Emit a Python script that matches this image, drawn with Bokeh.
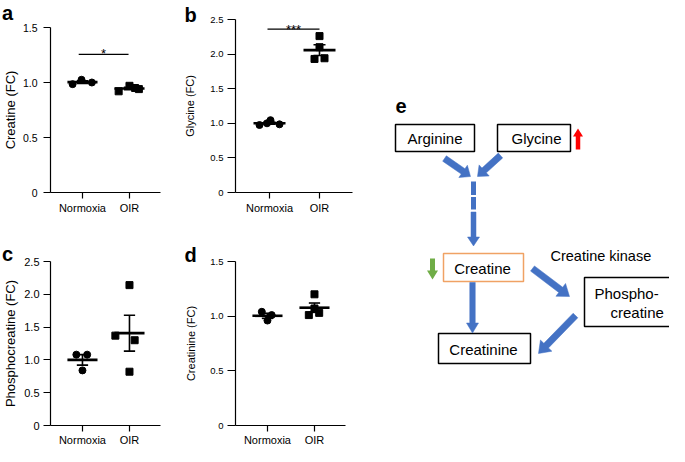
import math
import numpy as np
from bokeh.plotting import figure
from bokeh.models import Range1d, FixedTicker
from bokeh.layouts import row, column
from bokeh.embed import file_html
from bokeh.resources import INLINE
from bokeh.core.properties import value

FONT = "Liberation Sans"

# ---------------- data ----------------
groups = ["Normoxia", "OIR"]
group_pos = [1, 2]

creatine_normoxia = [0.985, 1.025, 1.0]
creatine_oir = [0.92, 0.97, 0.95, 0.94]
glycine_normoxia = [0.975, 1.0, 1.045, 0.985]
glycine_oir = [1.93, 2.26, 2.10, 1.94]
phosphocreatine_normoxia = [1.08, 1.08, 0.84]
phosphocreatine_oir = [2.14, 1.37, 1.30, 0.82]
creatinine_normoxia = [1.04, 0.96, 1.01]
creatinine_oir = [1.20, 1.07, 1.01, 1.03]

y_ticks_15 = [0, 0.5, 1.0, 1.5]
y_tick_labels_15 = ["0", "0.5", "1.0", "1.5"]
y_ticks_25 = [0, 0.5, 1.0, 1.5, 2.0, 2.5]
y_tick_labels_25 = ["0", "0.5", "1.0", "1.5", "2.0", "2.5"]

# jitter (horizontal placement of dots, layout only)
jit_a = ([-0.21, -0.02, 0.2], [-0.23, 0.0, 0.12, 0.2])
jit_b = ([-0.2, -0.05, 0.02, 0.2], [-0.1, 0.0, 0.0, 0.1])
jit_c = ([-0.13, 0.1, 0.0], [0.0, -0.3, 0.11, 0.0])
jit_d = ([-0.12, 0.0, 0.09], [0.0, 0.0, -0.12, 0.1])

XR = (0.32, 2.66)   # x extent of the axes


def panel(letter, ylabel, norm, oir, jit, ymax, yticks, ylabels, g, sig=None):
    W, H = g["W"], g["H"]
    al, ar, at, ab = g["axes"]           # axes box in figure pixels
    kx = (XR[1] - XR[0]) / (ar - al)
    ky = ymax / (ab - at)
    x_start, x_end = XR[0] - al * kx, XR[1] + (W - ar) * kx
    y_start, y_end = -(H - ab) * ky, ymax + at * ky

    p = figure(width=W, height=H, min_border=0,
               x_range=Range1d(x_start, x_end), y_range=Range1d(y_start, y_end),
               output_backend="svg", toolbar_location=None, tools="")
    p.grid.visible = False
    p.outline_line_color = None
    p.background_fill_color = "white"
    p.border_fill_color = "white"

    for ax in (p.xaxis[0], p.yaxis[0]):
        ax.axis_line_color = "black"
        ax.axis_line_width = 1.2
        ax.major_tick_line_color = "black"
        ax.major_tick_line_width = 1.2
        ax.minor_tick_line_color = None
        ax.major_tick_in = 0
        ax.major_label_text_color = "black"
        ax.major_label_text_font = FONT
        ax.axis_label_text_font = FONT
        ax.axis_label_text_font_style = "normal"
        ax.axis_label_text_color = "black"

    xa = p.xaxis[0]
    xa.fixed_location = 0
    xa.bounds = XR
    xa.ticker = FixedTicker(ticks=group_pos)
    xa.major_label_overrides = {pos: name for pos, name in zip(group_pos, groups)}
    xa.major_tick_out = 6
    xa.major_label_standoff = g["xstd"]
    xa.major_label_text_font_size = "11px"

    ya = p.yaxis[0]
    ya.fixed_location = XR[0]
    ya.bounds = (0, ymax)
    ya.ticker = FixedTicker(ticks=yticks)
    ya.major_label_overrides = {t: s for t, s in zip(yticks, ylabels)}
    ya.major_tick_out = g["tick"]
    ya.major_label_standoff = g["std"]
    ya.major_label_text_font_size = g["tfs"]
    ya.axis_label = ylabel
    ya.axis_label_text_font_size = g["lfs"]
    ya.axis_label_standoff = g["als"]

    for vals, dx, pos, marker in ((norm, jit[0], group_pos[0], "circle"),
                                  (oir, jit[1], group_pos[1], "square")):
        v = np.array(vals, dtype=float)
        xs = pos + np.array(dx)
        p.scatter(xs, v, marker=marker, size=7, fill_color="black", line_color="black")
        m = v.mean()
        sem = v.std(ddof=1) / math.sqrt(len(v))
        p.segment(x0=[pos - 0.32], x1=[pos + 0.32], y0=[m], y1=[m], line_color="black", line_width=2.6)
        p.segment(x0=[pos, pos - 0.12, pos - 0.12], x1=[pos, pos + 0.12, pos + 0.12],
                  y0=[m - sem, m - sem, m + sem], y1=[m + sem, m - sem, m + sem],
                  line_color="black", line_width=1.6)

    if sig is not None:
        x0, x1, yl, stars, ys = sig
        p.segment(x0=[x0], x1=[x1], y0=[yl], y1=[yl], line_color="black", line_width=1.2)
        p.text(x=[(x0 + x1) / 2], y=[ys], text=[stars], text_font=value(FONT),
               text_font_size="13px", text_align="center", text_baseline="alphabetic",
               text_color="black")

    # panel letter, placed by figure-pixel position
    fx, fy = g["letter"]
    p.text(x=[x_start + fx * kx], y=[y_end - fy * ky], text=[letter], text_font=value(FONT),
           text_font_size="20px", text_font_style="bold", text_align="left",
           text_baseline="alphabetic", text_color="black")
    return p


ga = dict(W=180, H=220, axes=(50, 160, 27, 192), tick=7, std=6, tfs="10.5px", lfs="13px", als=2,
          xstd=3, letter=(1.5, 12.7))
gb = dict(W=185, H=220, axes=(55, 172, 19, 192), tick=8, std=4, tfs="9.5px", lfs="11px", als=11,
          xstd=3, letter=(4, 14.5))
gc = dict(W=180, H=226, axes=(50, 160, 41, 205), tick=7, std=4, tfs="11px", lfs="13px", als=3,
          xstd=2, letter=(1.5, 33))
gd = dict(W=185, H=226, axes=(55, 165, 41, 205), tick=8, std=4, tfs="9.5px", lfs="11px", als=10,
          xstd=2, letter=(4, 34))

pa = panel("a", "Creatine (FC)", creatine_normoxia, creatine_oir, jit_a, 1.5,
           y_ticks_15, y_tick_labels_15, ga, sig=(0.92, 1.98, 1.255, "*", 1.265))
pb = panel("b", "Glycine (FC)", glycine_normoxia, glycine_oir, jit_b, 2.5,
           y_ticks_25, y_tick_labels_25, gb, sig=(0.96, 2.0, 2.36, "***", 2.35))
pc = panel("c", "Phosphocreatine (FC)", phosphocreatine_normoxia, phosphocreatine_oir, jit_c, 2.5,
           y_ticks_25, y_tick_labels_25, gc)
pd = panel("d", "Creatinine (FC)", creatinine_normoxia, creatinine_oir, jit_d, 1.5,
           y_ticks_15, y_tick_labels_15, gd)

# ---------------- panel e: pathway diagram ----------------
BLUE = "#4472C4"
E_X0, E_X1, E_Y0, E_Y1 = 373, 677, 8, 454
pe = figure(width=E_X1 - E_X0, height=E_Y1 - E_Y0,
            x_range=Range1d(E_X0, E_X1), y_range=Range1d(E_Y1, E_Y0),
            x_axis_type=None, y_axis_type=None, min_border=0,
            output_backend="svg", toolbar_location=None, tools="")
pe.grid.visible = False
pe.outline_line_color = None

node_names = ["Arginine", "Glycine", "Creatine", "Creatinine", "Phospho-creatine"]
node_left = [403, 505, 451, 446, 592]
node_right = [482, 578, 531, 538, 690]
node_top = [132, 132, 261, 341, 285]
node_bottom = [159, 159, 289, 371, 334]
node_color = ["black", "black", "#F0A264", "black", "black"]
pe.quad(left=node_left, right=node_right, top=node_top, bottom=node_bottom,
        fill_color="white", line_color=node_color, line_width=1.5)

txt = ["Arginine", "Glycine", "Creatine", "Creatinine"]
txt_x = [442.5, 544, 490, 491]
txt_y = [146, 145.5, 275.5, 357]
pe.text(x=txt_x, y=txt_y, text=txt, text_font=value(FONT), text_font_size="15px",
        text_align="center", text_baseline="middle", text_color="black")
pe.text(x=[602, 618], y=[301, 319.5], text=["Phospho-", "creatine"], text_font=value(FONT),
        text_font_size="15px", text_align="left", text_baseline="middle", text_color="black")
pe.text(x=[558], y=[263.5], text=["Creatine kinase"], text_font=value(FONT),
        text_font_size="14.5px", text_align="left", text_baseline="middle", text_color="black")
pe.text(x=[403], y=[113.3], text=["e"], text_font=value(FONT), text_font_size="20px",
        text_font_style="bold", text_align="left", text_baseline="alphabetic", text_color="black")


def block_arrow(x0, y0, x1, y1, shaft, head_w, head_len):
    dx, dy = x1 - x0, y1 - y0
    L = math.hypot(dx, dy)
    ux, uy = dx / L, dy / L
    px, py = -uy, ux
    bx, by = x1 - ux * head_len, y1 - uy * head_len
    s, h = shaft / 2, head_w / 2
    xs = [x0 + px * s, bx + px * s, bx + px * h, x1, bx - px * h, bx - px * s, x0 - px * s]
    ys = [y0 + py * s, by + py * s, by + py * h, y1, by - py * h, by - py * s, y0 - py * s]
    return xs, ys


arrows = [
    (452, 166, 478, 184, 6.5, 15, 9),
    (508, 163, 485, 184, 6.5, 15, 9),
    (481, 219.5, 481, 253.5, 5, 12, 9),
    (480, 290, 480, 340.5, 5.5, 12, 10),
    (540, 276, 577, 304, 6.5, 16, 11),
    (583, 323, 546, 361, 6.5, 16, 11),
]
axs, ays = [], []
for a in arrows:
    xs, ys = block_arrow(*a)
    axs.append(xs)
    ays.append(ys)
pe.patches(axs, ays, fill_color=BLUE, line_color=BLUE, line_width=0.5)

# dashed part of the vertical connector
pe.quad(left=[478.5, 478.5], right=[483.5, 483.5], top=[189, 204.5], bottom=[202.5, 217],
        fill_color=BLUE, line_color=None)

# change indicators
rx, ry = block_arrow(585.5, 157, 585.5, 136, 4.5, 10, 8)
gx, gy = block_arrow(440, 266, 440, 287, 5, 11, 9)
pe.patches([rx, gx], [ry, gy], fill_color=["#FF0000", "#70AD47"], line_color=None)

layout = row(column(row(pa, pb), row(pc, pd)), pe)

open("out.html", "w").write(file_html(layout, INLINE))
